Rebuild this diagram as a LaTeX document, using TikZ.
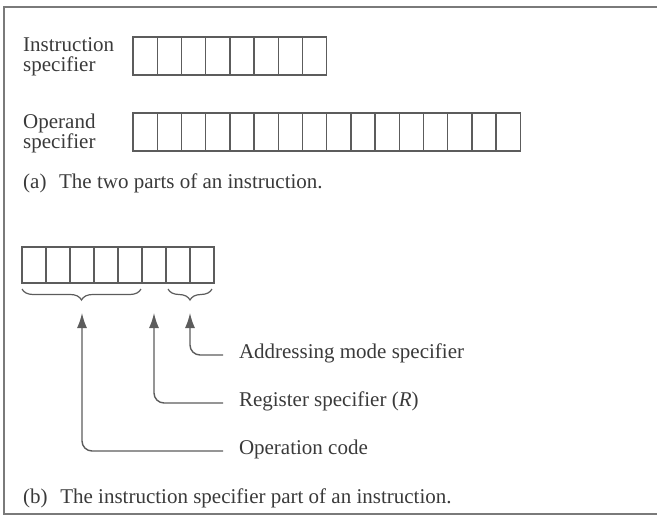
\documentclass[tikz,border=0pt]{standalone}
\usepackage{fontspec}
\setmainfont{Liberation Serif}
\usetikzlibrary{positioning,calc,decorations.pathreplacing,arrows.meta}
\definecolor{inkgray}{HTML}{3A3A3A}
\definecolor{linegray}{HTML}{5C5C5C}
\definecolor{framegray}{HTML}{7A7A7A}

\begin{document}
\begin{tikzpicture}[x=1pt,y=-1pt,
        every node/.style={text=inkgray,font=\fontsize{21}{20}\selectfont},
        cell/.style={minimum width=24.2pt,minimum height=38pt,outer sep=0pt,inner sep=0pt,
                     draw=linegray,line width=1.4pt,rectangle,node distance=0pt},
        bcell/.style={cell,minimum width=24pt,minimum height=36pt},
        fldtext/.style={align=left,inner sep=0pt,anchor=west},
        captext/.style={inner sep=0pt,anchor=base west},
        ptrtext/.style={inner sep=0pt,outer xsep=16pt,anchor=west,text height=0.66em,text depth=0pt},
        bracket/.style={draw=linegray,line width=1.2pt,decorate,decoration={brace,mirror,amplitude=11pt}},
        pointer/.style={draw=linegray,line width=1.4pt,rounded corners=10pt,-{Latex[length=15pt,width=10pt]}}]
   \useasboundingbox (0,0) rectangle (657,517);
   \draw[framegray,line width=1.2pt] (657,7) -| (4,514) -- (657,514);

   % (a) the two parts
   \node[cell] (ins1) at (145.1,56) {};
   \foreach \i [count=\j] in {2,...,8}
      \node[cell,right=of ins\j] (ins\i) {};
   \node[cell] (opd1) at (145.1,132) {};
   \foreach \i [count=\j] in {2,...,16}
      \node[cell,right=of opd\j] (opd\i) {};
   \node[fldtext] (inslbl) at (23,57) {Instruction\\specifier};
   \node[fldtext] (opdlbl) at (23,133) {Operand\\specifier};
   \node[captext] (capa) at (23,188) {(a)\hskip0.6em The two parts of an instruction.};

   % (b) the instruction specifier
   \node[bcell] (ops1) at (34,265) {};
   \foreach \i [count=\j] in {2,...,8}
      \node[bcell,right=of ops\j] (ops\i) {};
   \draw[bracket] ($(ops1.south west)+(0,6)$) -- ($(ops5.south east)+(-1,6)$);
   \draw[bracket] ($(ops7.south west)+(2,6)$) -- ($(ops8.south east)+(-2,6)$);
   \coordinate (opctip) at ($(ops1.south west)!0.5!(ops5.south east)+(0,30)$);
   \coordinate (regtip) at ($(ops6.south)+(0,30)$);
   \coordinate (amtip) at ($(ops7.south west)!0.5!(ops8.south east)+(0,30)$);

   \node[ptrtext] (amtxt) at (223,355) {Addressing mode specifier};
   \node[ptrtext] (regtxt) at (223,403) {Register specifier (\textit{R})};
   \node[ptrtext] (opctxt) at (223,451) {Operation code};
   \draw[pointer] (amtxt.west) -| (amtip);
   \draw[pointer] (regtxt.west) -| (regtip);
   \draw[pointer] (opctxt.west) -| (opctip);

   \node[captext] (capb) at (23,503) {(b)\hskip0.6em The instruction specifier part of an instruction.};
\end{tikzpicture}
\end{document}
